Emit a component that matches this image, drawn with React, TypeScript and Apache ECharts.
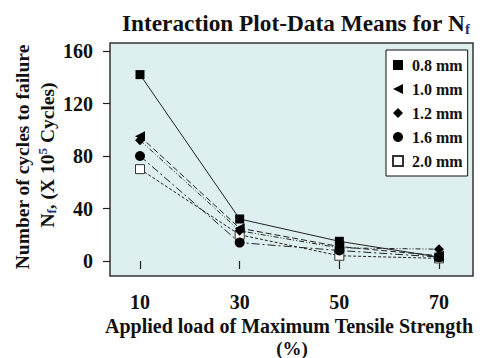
import React, { useEffect, useRef } from "react";
import * as echarts from "echarts";

const loads = [10, 30, 50, 70];
const xTicks = ["10", "30", "50", "70"];
const seriesNames = ["0.8 mm", "1.0 mm", "1.2 mm", "1.6 mm", "2.0 mm"];
const s08 = [142, 32, 15, 3];
const s10 = [95, 25, 11, 4];
const s12 = [92, 23, 10, 9];
const s16 = [80, 14, 8, 3];
const s20 = [70, 20, 4, 2];
const yTicks = [0, 40, 80, 120, 160];

const FONT = '"Liberation Serif", "Times New Roman", serif';
const BLUE = "#1b2f7a";

export default function App() {
  const ref = useRef<HTMLDivElement>(null);
  useEffect(() => {
    if (!ref.current) return;
    const chart = echarts.init(ref.current, null, { renderer: "svg" });
    const allData = [s08, s10, s12, s16, s20];
    const symbols = ["rect", "triangle", "diamond", "circle", "rect"];
    const rotates = [0, 90, 0, 0, 0];
    const sizes = [9, 10, 10, 10, 9];
    const dashes: any[] = ["solid", [6, 3], [5, 2, 1, 2, 1, 2], [8, 3, 2, 3], [3, 2]];
    const icons = [
      "rect",
      "path://M10,0 L10,10 L0,5 Z",
      "diamond",
      "circle",
      "rect",
    ];
    const series = allData.map((d, i) => ({
      name: seriesNames[i],
      type: "line",
      data: d.map((v, j) => [loads[j], v]),
      symbol: symbols[i],
      symbolRotate: rotates[i],
      symbolSize: sizes[i],
      z: 10 - i,
      lineStyle: { color: "#222", width: 1, type: dashes[i] },
      itemStyle:
        i === 4
          ? { color: "#fff", borderColor: "#333", borderWidth: 1 }
          : { color: "#000" },
    }));
    chart.setOption({
      animation: false,
      title: {
        text: "Interaction Plot-Data Means for {n|N}{s|f}",
        left: 117,
        top: 5,
        textStyle: {
          fontFamily: FONT,
          fontWeight: "bold",
          fontSize: 23.3,
          color: "#111",
          rich: {
            n: { fontFamily: FONT, fontWeight: "bold", fontSize: 23.3, color: "#111" },
            s: {
              fontFamily: FONT,
              fontWeight: "bold",
              fontSize: 15,
              color: BLUE,
              padding: [11, 0, 0, 0],
            },
          },
        },
      },
      grid: { left: 140, right: 48, top: 51, bottom: 97, containLabel: false },
      xAxis: {
        type: "value",
        min: 10,
        max: 70,
        interval: 20,
        offset: 15,
        axisLine: { show: false },
        axisTick: { show: true, length: 8, lineStyle: { color: "#222", width: 1.2 } },
        splitLine: { show: false },
        axisLabel: {
          margin: 16,
          fontFamily: FONT,
          fontWeight: "bold",
          fontSize: 20,
          color: "#111",
          formatter: (v: number) => xTicks[loads.indexOf(v)] ?? "",
        },
      },
      yAxis: {
        type: "value",
        min: yTicks[0],
        max: yTicks[yTicks.length - 1],
        interval: 40,
        offset: 30,
        axisLine: { show: false },
        axisTick: { show: true, length: 7, lineStyle: { color: "#222", width: 1.2 } },
        splitLine: { show: false },
        axisLabel: {
          margin: 17,
          fontFamily: FONT,
          fontWeight: "bold",
          fontSize: 20,
          color: "#111",
          padding: [6, 0, 0, 0],
        },
      },
      legend: {
        orient: "vertical",
        left: 386,
        top: 50,
        padding: [7, 5, 7, 6],
        itemGap: 8,
        itemWidth: 10,
        itemHeight: 10,
        backgroundColor: "#fff",
        borderColor: "#111",
        borderWidth: 1,
        borderRadius: 0,
        data: seriesNames.map((n, i) => ({ name: n, icon: icons[i] })),
        textStyle: {
          fontFamily: FONT,
          fontWeight: "bold",
          fontSize: 16,
          color: "#111",
          lineHeight: 14,
          padding: [0, 0, 0, 4],
        },
      },
      graphic: [
        {
          type: "rect",
          z: -1,
          shape: { x: 110, y: 43, width: 363, height: 233 },
          style: { fill: "#ddefef", stroke: "#333", lineWidth: 1.5 },
        },
        {
          type: "text",
          x: 22,
          y: 157,
          rotation: Math.PI / 2,
          style: {
            text: "Number of cycles to failure",
            fontFamily: FONT,
            fontWeight: "bold",
            fontSize: 19.5,
            fill: "#111",
            align: "center",
            verticalAlign: "middle",
          },
        },
        {
          type: "text",
          x: 47,
          y: 155,
          rotation: Math.PI / 2,
          style: {
            text: "{a|N}{s|f}{a|, (X 10}{p|5}{a| Cycles)}",
            fontFamily: FONT,
            fontWeight: "bold",
            fontSize: 19.5,
            fill: "#111",
            align: "center",
            verticalAlign: "middle",
            rich: {
              a: { fontFamily: FONT, fontWeight: "bold", fontSize: 19.5, fill: "#111" },
              s: {
                fontFamily: FONT,
                fontWeight: "bold",
                fontSize: 13,
                fill: BLUE,
                padding: [9, 0, 0, 0],
              },
              p: {
                fontFamily: FONT,
                fontWeight: "bold",
                fontSize: 13,
                fill: BLUE,
                padding: [0, 0, 9, 0],
              },
            },
          },
        },
        {
          type: "text",
          x: 289,
          y: 326,
          style: {
            text: "Applied load of Maximum Tensile Strength",
            fontFamily: FONT,
            fontWeight: "bold",
            fontSize: 20,
            fill: "#111",
            align: "center",
            verticalAlign: "middle",
          },
        },
        {
          type: "text",
          x: 292,
          y: 348,
          style: {
            text: "(%)",
            fontFamily: FONT,
            fontWeight: "bold",
            fontSize: 19,
            fill: "#111",
            align: "center",
            verticalAlign: "middle",
          },
        },
      ],
      series,
    });
    return () => chart.dispose();
  }, []);
  return (
    <div
      ref={ref}
      style={{ position: "absolute", left: 0, top: 0, width: 487, height: 358 }}
    />
  );
}
